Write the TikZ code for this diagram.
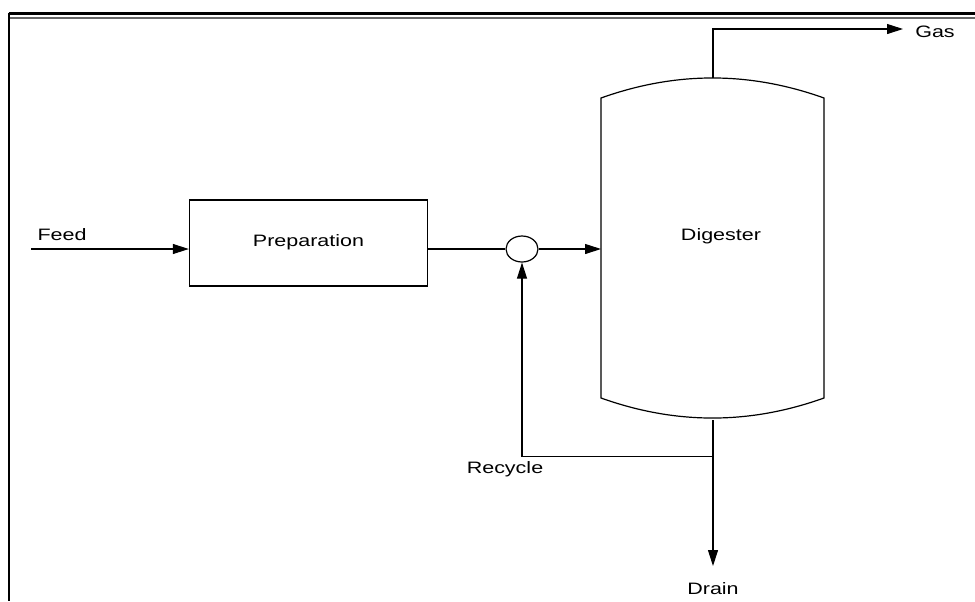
\documentclass[tikz,border=0pt]{standalone}
\usepackage{fontspec}
\newfontfamily\labfont[FakeStretch=1.3]{Liberation Sans}
\usetikzlibrary{arrows.meta,shapes.geometric}
\tikzset{
  lbl/.style={font=\labfont\fontsize{12.4pt}{14pt}\selectfont, inner sep=0pt, anchor=center},
  flow/.style={line width=0.8pt, -{Triangle[length=12pt,width=7.5pt]}},
  pipe/.style={line width=0.8pt},
  unitbox/.style={draw, line width=1pt, minimum width=178.5pt, minimum height=64.5pt, inner sep=0pt},
  mixer/.style={draw, ellipse, line width=0.9pt, minimum width=24pt, minimum height=19.5pt, inner sep=0pt},
  vessel/.style={draw, line width=0.9pt}
}
\begin{document}
\begin{tikzpicture}[x=0.75pt,y=-0.75pt]
\useasboundingbox (0,0) rectangle (975,601);
% frame
\draw[line width=1.8pt] (8.5,13.3) -- (975,13.3);
\draw[line width=1.3pt, gray!80!black] (8.5,18.3) -- (975,18.3);
\draw[line width=1.8pt] (9,12.5) -- (9,601);

% nodes
\node[unitbox] (prep) at (308.5,243) {};
\node[lbl] (preptxt) at (308.5,242.5) {Preparation};
\node[mixer] (mix) at (522,249) {};
\node[lbl] (feedtxt) at (62,234.5) {Feed};
\node[lbl] (digtxt) at (721,236) {Digester};
\node[lbl] (gastxt) at (935,31.5) {Gas};
\node[lbl] (draintxt) at (713,589) {Drain};
\node[lbl] (rectxt) at (505,469.5) {Recycle};

% digester vessel
\coordinate (dtl) at (601,98);
\coordinate (dtr) at (824,98);
\coordinate (dbl) at (601,398);
\coordinate (dbr) at (824,398);
\coordinate (dtop) at (713,78);
\coordinate (dbot) at (713,420);
\coordinate (din) at (601,249);
\draw[vessel] (dtl) -- (dbl) .. controls (675.7,424.7) and (749.3,424.7) .. (dbr)
  -- (dtr) .. controls (749.3,71.3) and (675.7,71.3) .. (dtl) -- cycle;

% connectors
\coordinate (feedin) at (31,249);
\coordinate (prepout) at (prep.east |- 0,249);
\coordinate (prepin) at (prep.west |- 0,249);
\draw[flow] (feedin) -- (prepin);
\draw[pipe] (prepout) -- (mix.west);
\draw[flow] (mix.east) -- (din);

\coordinate (gascorner) at (713,29);
\coordinate (gasend) at (903,29);
\draw[flow] (dtop) -- (gascorner) -- (gasend);

\coordinate (drainend) at (713,566);
\draw[flow] (dbot) -- (drainend);

\coordinate (recjoin) at (713,456.5);
\coordinate (reccorner) at (522,456.5);
\draw[flow] (recjoin) -- (reccorner) -- (mix.south);
\end{tikzpicture}
\end{document}
